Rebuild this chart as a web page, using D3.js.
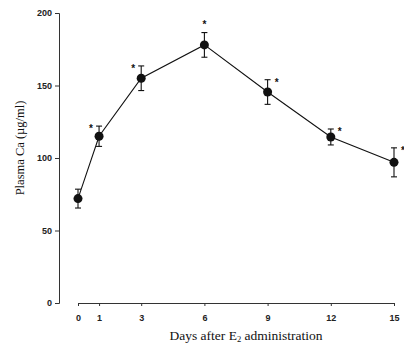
<!DOCTYPE html>
<html>
<head>
<meta charset="utf-8">
<script src="https://cdn.jsdelivr.net/npm/d3@7"></script>
<style>
  body { margin: 0; background: #fff; }
  svg { display: block; }
</style>
</head>
<body>
<script>
// Data
const days = [0, 1, 3, 6, 9, 12, 15];
const plasmaCa = [72, 115, 155, 178, 145.5, 114.5, 97];
const sem = [6.5, 7, 8.5, 8.5, 8.5, 5.5, 10];
const significant = [false, true, true, true, true, true, true];
const starSide = ['', 'left', 'left', 'top', 'right', 'right', 'right'];
const xTicks = [0, 1, 3, 6, 9, 12, 15];
const yTicks = [0, 50, 100, 150, 200];

const W = 404, H = 349;

const svg = d3.select('body')
  .append('svg')
  .attr('width', W)
  .attr('height', H);

// Scales
const x = d3.scaleLinear().domain([0, 15]).range([78, 394]);
const y = d3.scaleLinear().domain([0, 200]).range([303, 13]);

// Y axis (separate from x axis, offset to the left)
const yAxis = d3.axisLeft(y).tickValues(yTicks).tickSize(4).tickPadding(3);
const gy = svg.append('g')
  .attr('transform', 'translate(59,0)')
  .call(yAxis);
gy.select('.domain').attr('stroke', '#333').attr('stroke-width', 1);
gy.selectAll('.tick line').attr('stroke', '#333');
gy.selectAll('.tick text')
  .attr('font-family', 'Liberation Sans, Arial, sans-serif')
  .attr('font-size', 9)
  .attr('font-weight', 'bold')
  .attr('fill', '#222');

// X axis
const xAxis = d3.axisBottom(x).tickValues(xTicks).tickSize(3).tickPadding(9).tickSizeOuter(0);
const gx = svg.append('g')
  .attr('transform', 'translate(0,303)')
  .call(xAxis);
gx.select('.domain').attr('stroke', '#333').attr('stroke-width', 1);
gx.selectAll('.tick line').attr('stroke', '#333');
gx.selectAll('.tick text')
  .attr('font-family', 'Liberation Sans, Arial, sans-serif')
  .attr('font-size', 9)
  .attr('font-weight', 'bold')
  .attr('fill', '#222');

// Axis titles
const xt = svg.append('text')
  .attr('x', 246)
  .attr('y', 340)
  .attr('text-anchor', 'middle')
  .attr('font-family', 'Liberation Serif, Times New Roman, serif')
  .attr('font-size', 13.5)
  .attr('fill', '#111');
xt.append('tspan').text('Days after E');
xt.append('tspan').attr('font-size', 8.5).attr('dy', 2).text('2');
xt.append('tspan').attr('dy', -2).text(' administration');

svg.append('text')
  .attr('transform', 'translate(24,148) rotate(-90)')
  .attr('text-anchor', 'middle')
  .attr('font-family', 'Liberation Serif, Times New Roman, serif')
  .attr('font-size', 12.5)
  .attr('fill', '#111')
  .text('Plasma Ca (\u00b5g/ml)');

const data = days.map((d, i) => ({
  day: d, v: plasmaCa[i], e: sem[i], sig: significant[i], side: starSide[i]
}));

// Line
const line = d3.line()
  .x(d => x(d.day))
  .y(d => y(d.v));

svg.append('path')
  .datum(data)
  .attr('fill', 'none')
  .attr('stroke', '#111')
  .attr('stroke-width', 1.1)
  .attr('d', line);

// Error bars
const eb = svg.append('g').attr('stroke', '#111').attr('stroke-width', 1.1);
data.forEach(d => {
  const cx = x(d.day);
  eb.append('line').attr('x1', cx).attr('x2', cx).attr('y1', y(d.v - d.e)).attr('y2', y(d.v + d.e));
  eb.append('line').attr('x1', cx - 3).attr('x2', cx + 3).attr('y1', y(d.v + d.e)).attr('y2', y(d.v + d.e));
  eb.append('line').attr('x1', cx - 3).attr('x2', cx + 3).attr('y1', y(d.v - d.e)).attr('y2', y(d.v - d.e));
});

// Points
svg.append('g')
  .selectAll('circle')
  .data(data)
  .join('circle')
  .attr('cx', d => x(d.day))
  .attr('cy', d => y(d.v))
  .attr('r', 4.5)
  .attr('fill', '#111');

// Significance asterisks
svg.append('g')
  .selectAll('text')
  .data(data.filter(d => d.sig))
  .join('text')
  .attr('x', d => x(d.day) + (d.side === 'left' ? -8 : d.side === 'right' ? 9 : 0))
  .attr('y', d => d.side === 'top' ? y(d.v + d.e) - 5 : y(d.v + d.e) + 6)
  .attr('text-anchor', 'middle')
  .attr('font-family', 'Liberation Sans, Arial, sans-serif')
  .attr('font-size', 10)
  .attr('font-weight', 'bold')
  .attr('fill', '#111')
  .text('*');
</script>
</body>
</html>
